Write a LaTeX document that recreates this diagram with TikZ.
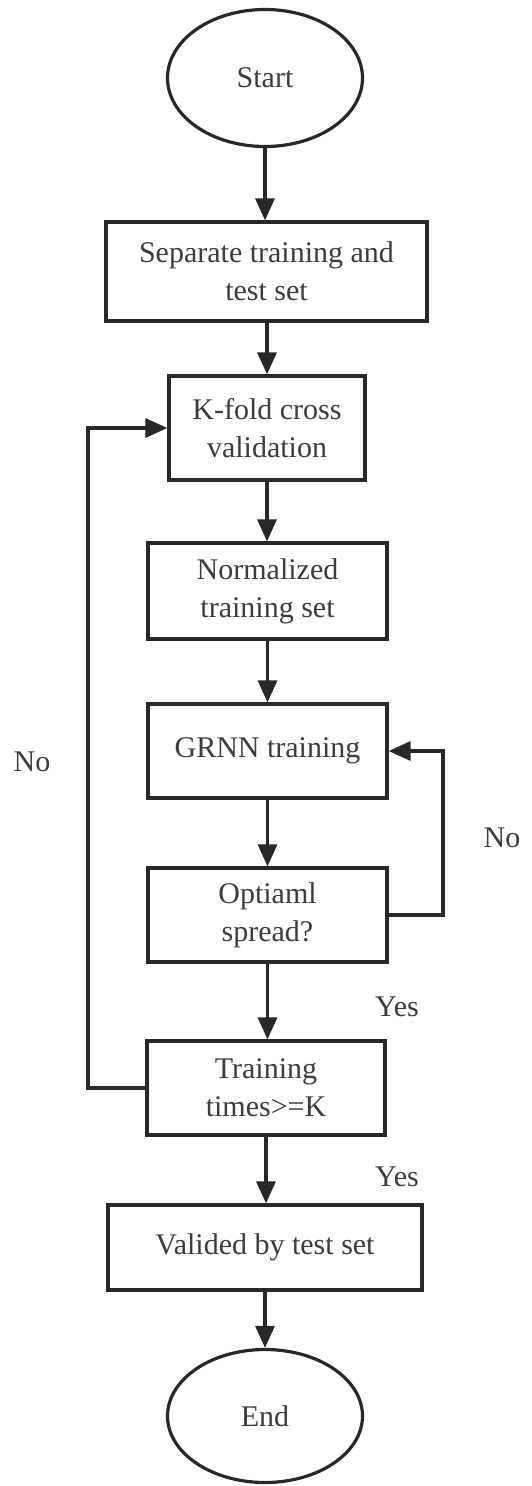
\documentclass[tikz,border=0pt]{standalone}
\usepackage{fontspec}
\setmainfont{Liberation Serif}
\usetikzlibrary{shapes.geometric,arrows.meta}
\definecolor{linec}{RGB}{40,40,40}
\definecolor{textc}{RGB}{60,60,60}
\tikzset{
  base/.style={draw=linec, line width=3.2pt, text=textc, align=center,
    font=\fontsize{30}{38}\selectfont, inner sep=0pt},
  procbox/.style={base, rectangle},
  termnode/.style={base, ellipse},
  flow/.style={draw=linec, line width=3.2pt, -{Triangle[length=22pt,width=19pt]}},
  lbl/.style={text=textc, font=\fontsize{30}{38}\selectfont, inner sep=0pt}
}
\begin{document}
\begin{tikzpicture}[x=1pt,y=-1pt]
\useasboundingbox (0,0) rectangle (532,1486);
\node[termnode, minimum width=195pt, minimum height=137pt] (start) at (265,78) {Start};
\node[procbox, minimum width=321pt, minimum height=99pt] (sep) at (266.5,271.5) {Separate training and\\test set};
\node[procbox, minimum width=196pt, minimum height=104pt] (kfold) at (267,428) {K-fold cross\\validation};
\node[procbox, minimum width=239pt, minimum height=96pt] (norm) at (267.5,591) {Normalized\\training set};
\node[procbox, minimum width=239pt, minimum height=94pt] (grnn) at (267.5,751) {GRNN training};
\node[procbox, minimum width=239pt, minimum height=94pt] (opt) at (267.5,915) {Optiaml\\spread?};
\node[procbox, minimum width=238pt, minimum height=94pt] (train) at (266,1088) {Training\\times>=K};
\node[procbox, minimum width=314pt, minimum height=85pt] (valid) at (265,1247.5) {Valided by test set};
\node[termnode, minimum width=195pt, minimum height=133pt] (end) at (265,1416) {End};

\draw[flow] (start.south) -- (start.south |- sep.north);
\draw[flow] (sep.south -| kfold.north) -- (kfold.north);
\draw[flow] (kfold.south) -- (kfold.south |- norm.north);
\draw[flow] (norm.south) -- (grnn.north);
\draw[flow] (grnn.south) -- (opt.north);
\draw[flow] (opt.south) -- (opt.south |- train.north);
\draw[flow] (train.south) -- (train.south |- valid.north);
\draw[flow] (valid.south) -- (end.north);

\coordinate (lc) at (88,1088);
\coordinate (rc) at (443,915);
\draw[flow] (train.west) -- (lc) |- (kfold.west);
\draw[flow] (opt.east) -- (rc) |- (grnn.east);

\node[lbl] (no1) at (32,762) {No};
\node[lbl] (no2) at (502,838) {No};
\node[lbl] (yes1) at (397,1007) {Yes};
\node[lbl] (yes2) at (397,1177) {Yes};
\end{tikzpicture}
\end{document}
